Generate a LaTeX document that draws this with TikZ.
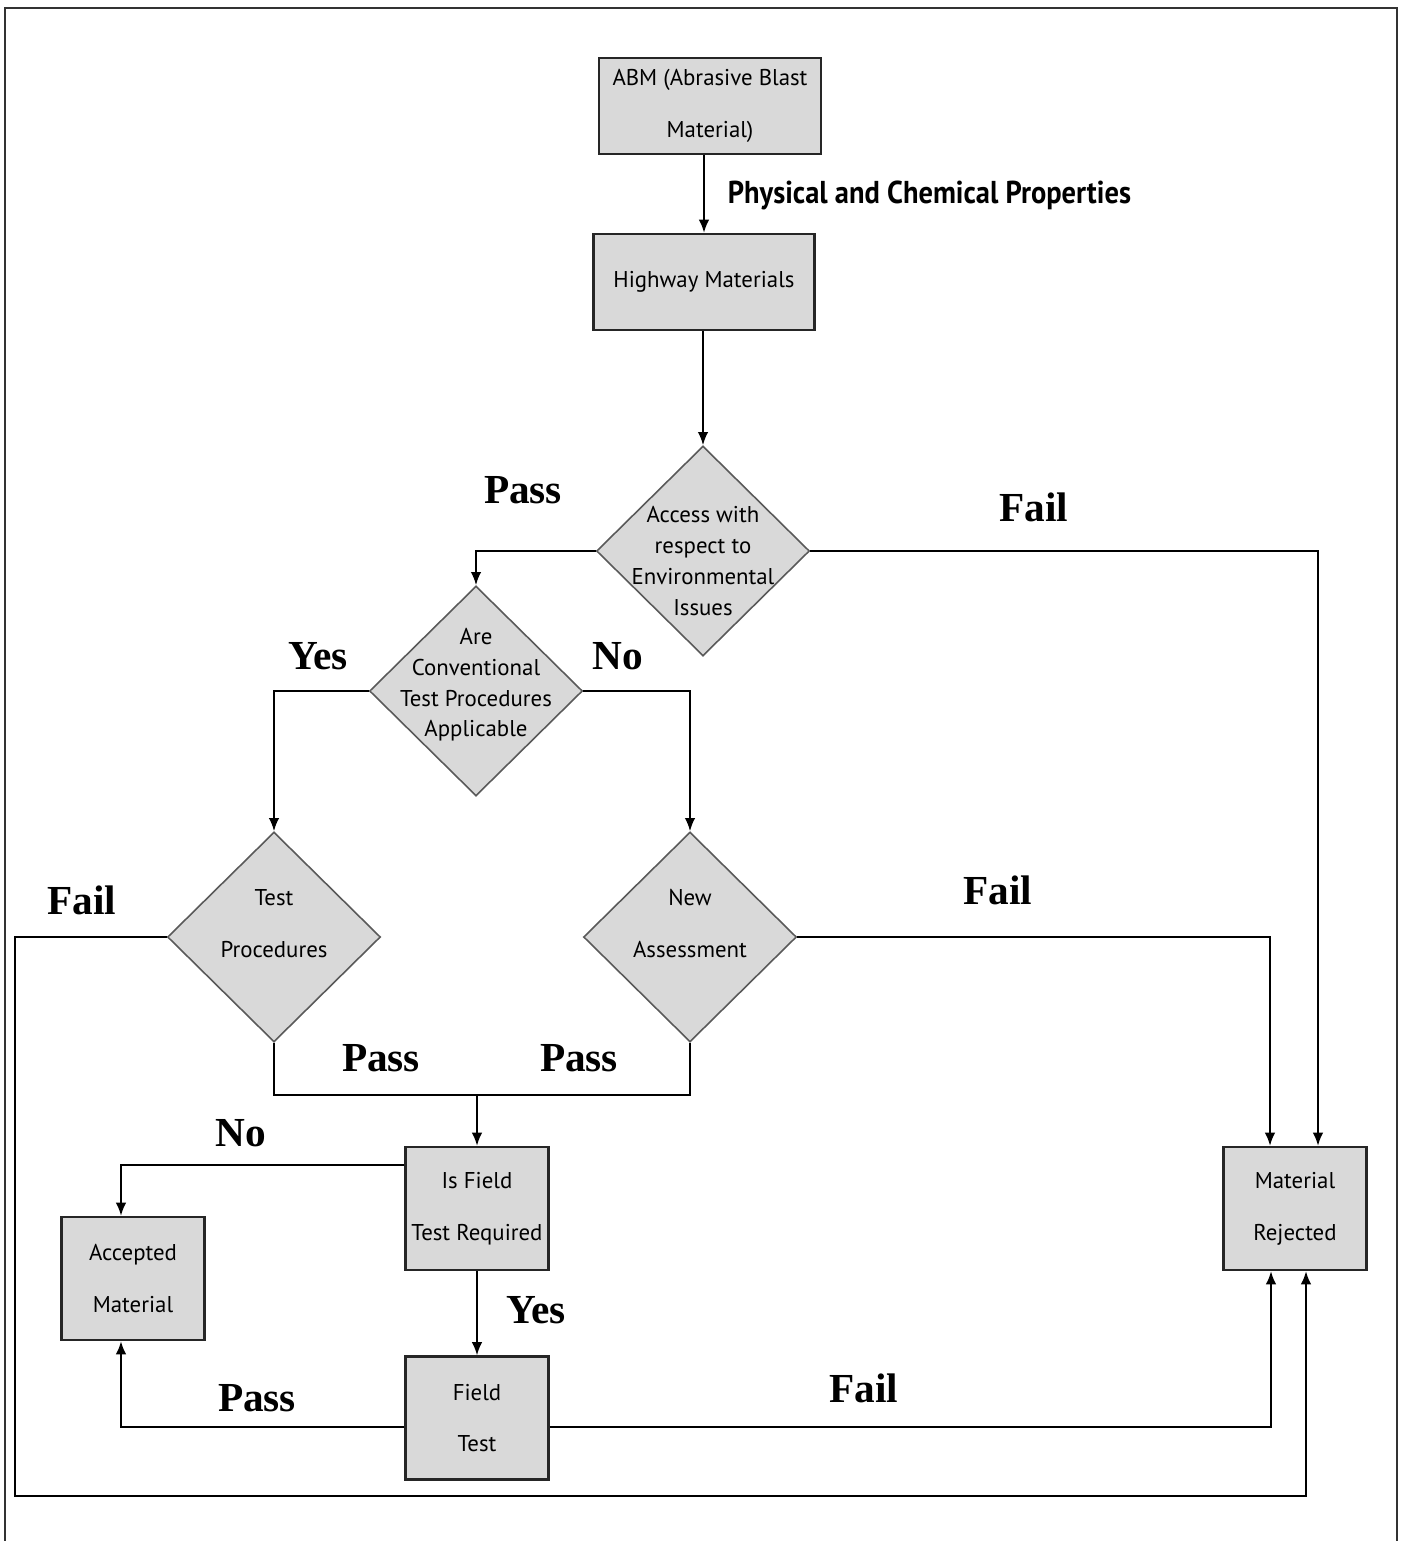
\documentclass[tikz,border=0pt]{standalone}
\usepackage{fontspec}
\usepackage{graphicx}
\setmainfont{PT Sans}
\newfontfamily\tagfont{Liberation Serif}
\usetikzlibrary{shapes.geometric,arrows.meta}

\begin{document}
\begin{tikzpicture}[x=0.02cm,y=-0.02cm,->,>={Latex[length=7.5pt,width=6pt]},line width=1.15pt,
      proc node/.style={rectangle,draw=black!85,line width=1.3pt,fill=black!15,align=center,inner sep=0pt,
        font=\fontsize{13}{29.5}\selectfont},
      small node/.style={proc node,minimum width=2.86cm,minimum height=2.46cm},
      dec node/.style={diamond,draw=black!65,line width=0.9pt,fill=black!15,inner sep=0pt,
        minimum width=4.26cm,minimum height=4.2cm},
      dec text/.style={align=center,font=\fontsize{13}{17.5}\selectfont},
      wide text/.style={align=center,font=\fontsize{13}{30}\selectfont},
      tag/.style={anchor=base,font=\tagfont\bfseries\fontsize{23.5}{28}\selectfont}]
      \useasboundingbox (0,0) rectangle (1404,1541);
      \draw[-,line width=0.9pt,black!80] (5,1541) -- (5,8) -- (1397,8) -- (1397,1541);

      % boxes
      \node[proc node,minimum width=4.44cm,minimum height=1.92cm] (abm) at (710,106) {ABM (Abrasive Blast\\Material)};
      \node[proc node,minimum width=4.42cm,minimum height=1.92cm] (hwy) at (704,282) {Highway Materials};
      \node[small node] (isf) at (477,1208.5) {Is Field\\Test Required};
      \node[small node] (acpt) at (133,1278.5) {Accepted\\Material};
      \node[small node] (fld) at (477,1418) {Field\\Test};
      \node[small node] (rej) at (1295,1208.5) {Material\\Rejected};

      % decisions
      \node[dec node,label={[dec text,yshift=-0.2cm]center:{Access with\\respect to\\Environmental\\Issues}}] (acc) at (703,551) {};
      \node[dec node,label={[dec text,yshift=0.12cm]center:{Are\\Conventional\\Test Procedures\\Applicable}}] (conv) at (476,691) {};
      \node[dec node,label={[wide text,yshift=0.27cm]center:{Test\\Procedures}}] (tp) at (274,937) {};
      \node[dec node,label={[wide text,yshift=0.27cm]center:{New\\Assessment}}] (new) at (690,937) {};

      % labels
      \node[anchor=west,font=\bfseries\fontsize{18}{21}\selectfont] (prop) at (721,195) {\scalebox{0.9}[1]{Physical and Chemical Properties}};
      \node[tag] (pass1) at (523,503) {Pass};
      \node[tag] (fail1) at (1034,521) {Fail};
      \node[tag] (yes1) at (318,669) {Yes};
      \node[tag] (no1) at (618,669) {No};
      \node[tag] (fail2) at (82,914) {Fail};
      \node[tag] (fail3) at (998,904) {Fail};
      \node[tag] (pass2) at (381,1071) {Pass};
      \node[tag] (pass3) at (579,1071) {Pass};
      \node[tag] (no2) at (241,1146) {No};
      \node[tag] (yes2) at (536,1323) {Yes};
      \node[tag] (pass4) at (257,1411) {Pass};
      \node[tag] (fail4) at (864,1402) {Fail};

      \coordinate (mg) at (477,1095);
      \coordinate (lp) at (15,1496);

      \draw (hwy.north |- abm.south) -- (hwy.north);
      \draw (acc.north |- hwy.south) -- (acc.north);
      \draw (acc.west) -| (conv.north);
      \draw (acc.east) -| ([xshift=0.46cm]rej.north);
      \draw (conv.west) -| (tp.north);
      \draw (conv.east) -| (new.north);
      \draw[-] (tp.south) |- (mg) -| (new.south);
      \draw (mg) -- (isf.north);
      \draw (new.east) -| ([xshift=-0.5cm]rej.north);
      \draw (tp.west) -| (lp) -| ([xshift=0.22cm]rej.south);
      \draw ([yshift=0.87cm]isf.west) -| ([xshift=-0.24cm]acpt.north);
      \draw (isf.south) -- (fld.north);
      \draw ([yshift=-0.18cm]fld.west) -| ([xshift=-0.24cm]acpt.south);
      \draw ([yshift=-0.18cm]fld.east) -| ([xshift=-0.48cm]rej.south);
\end{tikzpicture}
\end{document}
